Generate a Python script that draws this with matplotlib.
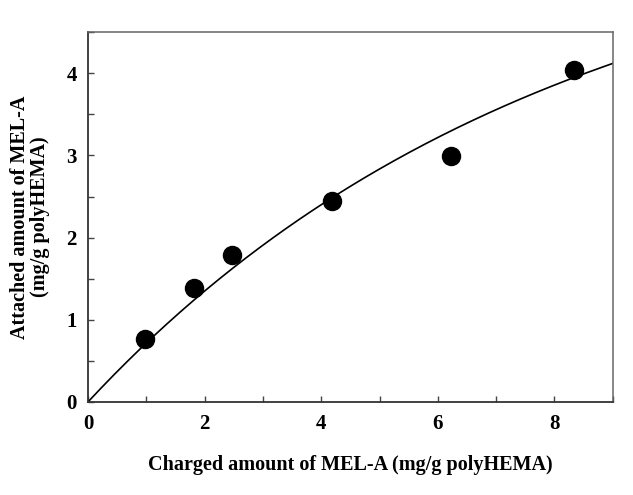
import matplotlib
matplotlib.use("Agg")
import matplotlib.pyplot as plt
import numpy as np
from matplotlib.ticker import MultipleLocator

# Data
charged = [0.98, 1.82, 2.47, 4.18, 6.22, 8.34]
attached = [0.77, 1.39, 1.79, 2.45, 2.99, 4.04]
# Fitted saturation curve y = a * (1 - exp(-b x))
fit_a = 6.10
fit_b = 0.125

plt.rcParams['font.family'] = ['Liberation Serif', 'DejaVu Serif']
plt.rcParams['font.weight'] = 'bold'

fig = plt.figure(figsize=(6.33, 4.95), dpi=100)
ax = fig.add_axes([0.139, 0.188, 0.829, 0.747])

xc = np.linspace(0, 9, 200)
ax.plot(xc, fit_a * (1 - np.exp(-fit_b * xc)), color='black', lw=1.2, zorder=2)
ax.plot(charged, attached, 'o', color='black', markersize=13, zorder=3)

ax.set_xlim(0, 9)
ax.set_ylim(0, 4.5)
ax.xaxis.set_major_locator(MultipleLocator(2))
ax.xaxis.set_minor_locator(MultipleLocator(1))
ax.yaxis.set_major_locator(MultipleLocator(1))
ax.yaxis.set_minor_locator(MultipleLocator(0.5))
ax.tick_params(which='both', direction='in', length=4, width=1, color='#444444',
               labelsize=15)
ax.tick_params(axis='x', pad=9)
ax.tick_params(axis='y', pad=8)
for lab in ax.get_xticklabels() + ax.get_yticklabels():
    lab.set_fontweight('bold')
for s in ['left', 'bottom']:
    ax.spines[s].set_color('#333333')
    ax.spines[s].set_linewidth(1.3)
for s in ['top', 'right']:
    ax.spines[s].set_color('#666666')
    ax.spines[s].set_linewidth(1.1)

ax.set_xlabel('Charged amount of MEL-A (mg/g polyHEMA)', fontsize=14.5,
              fontweight='bold', labelpad=15)
ax.set_ylabel('Attached amount of MEL-A\n(mg/g polyHEMA)', fontsize=14.5,
              fontweight='bold', labelpad=12, linespacing=0.95)

fig.savefig('out.png', dpi=100)
